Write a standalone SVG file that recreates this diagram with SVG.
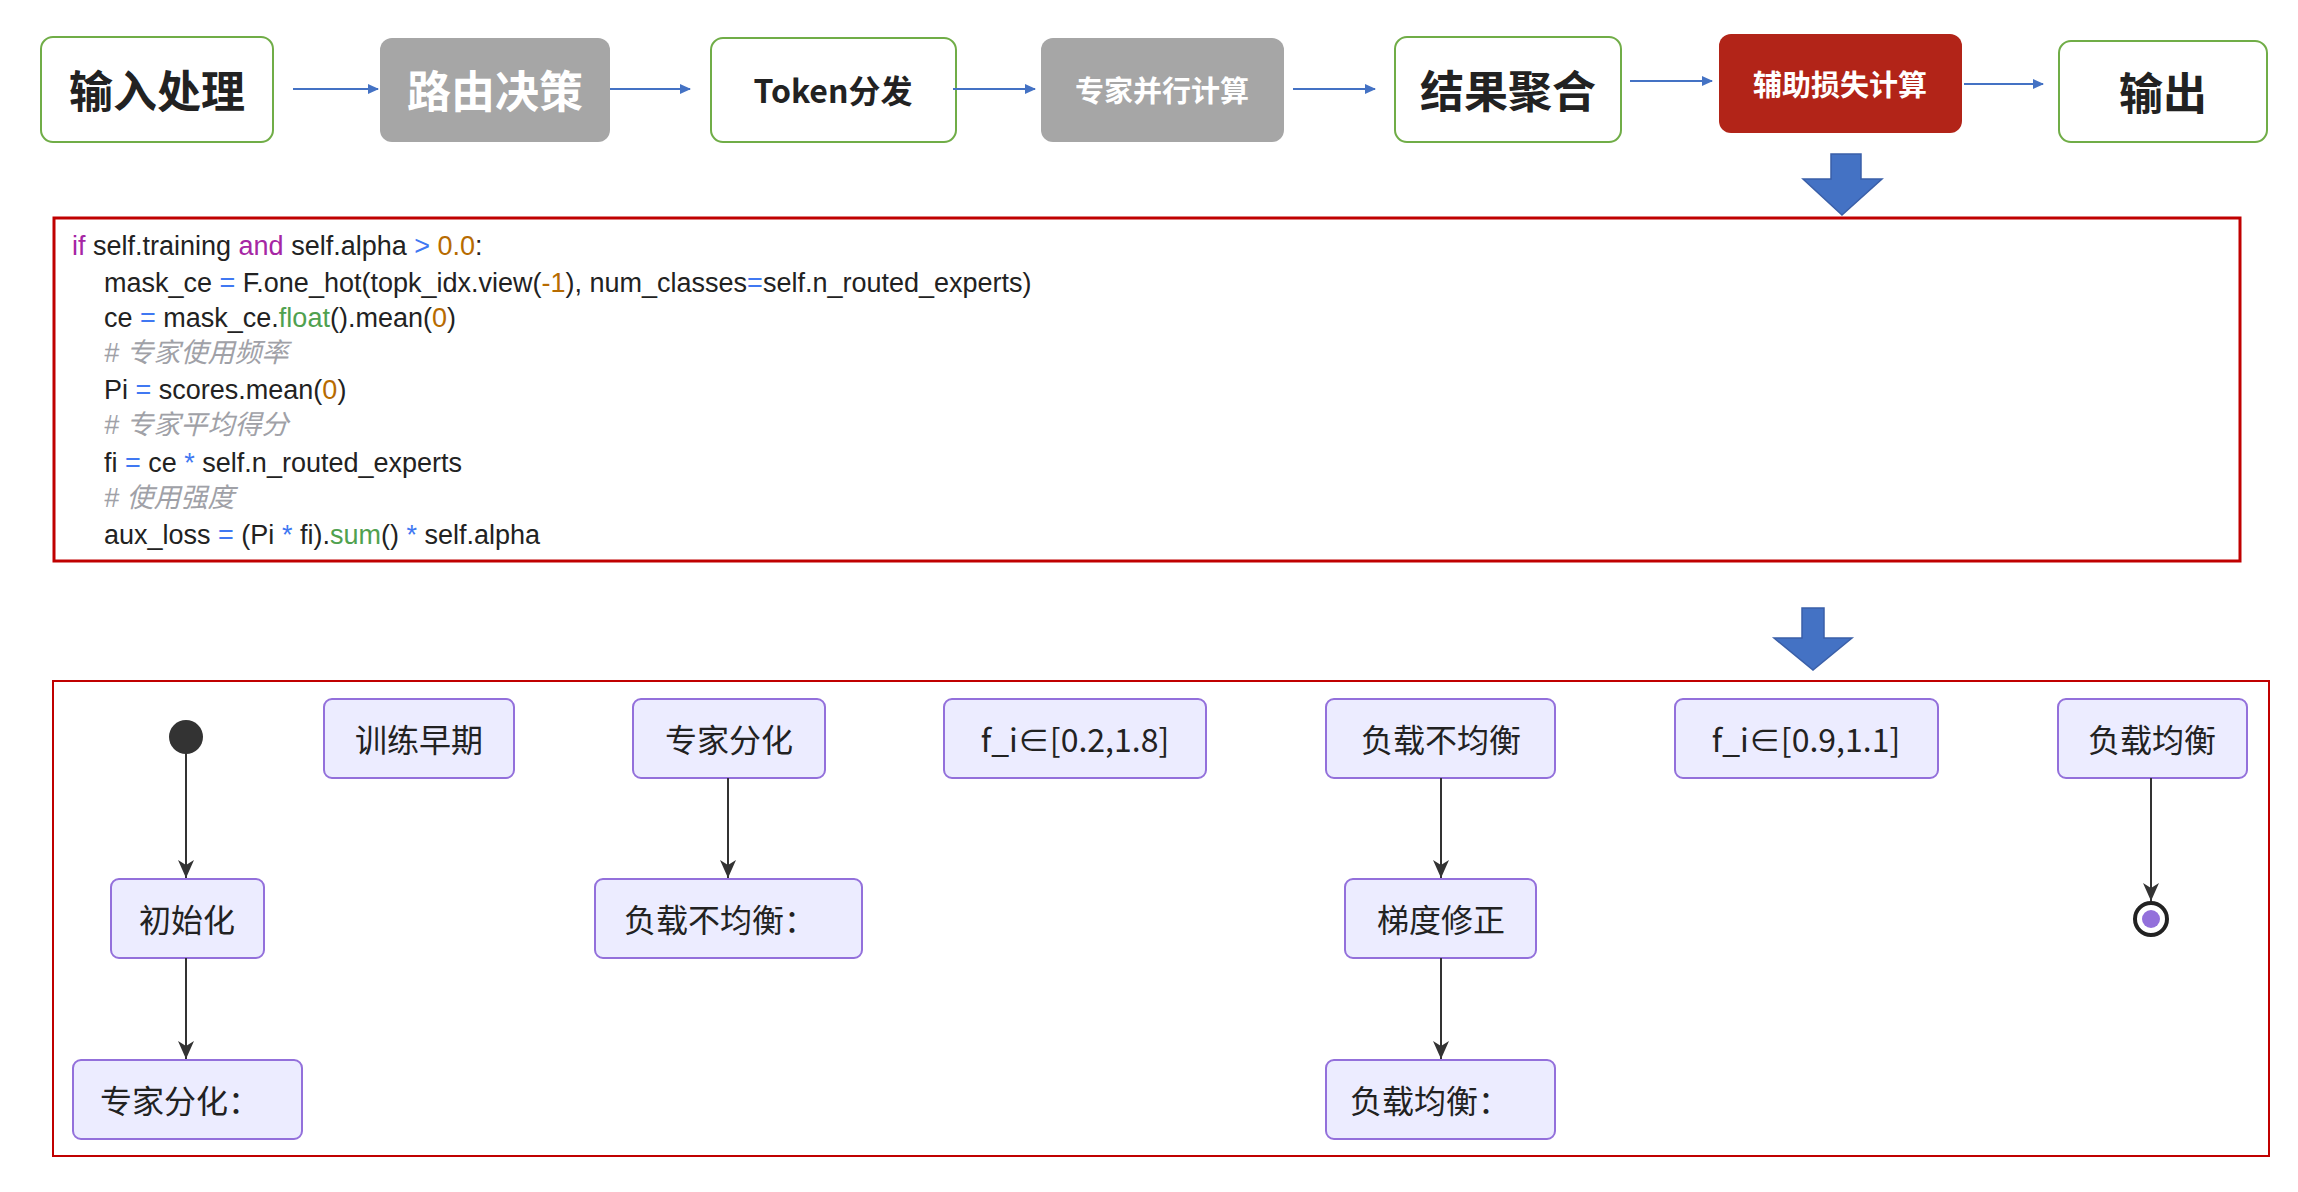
<svg xmlns="http://www.w3.org/2000/svg" width="2298" height="1192" viewBox="0 0 2298 1192">
<style>
text{font-family:"Noto Sans CJK SC","Noto Sans",sans-serif}
.g{fill:#fff;stroke:#70ad47;stroke-width:2}
.gr{fill:#a6a6a6}
.t{font-weight:bold;fill:#222;text-anchor:middle;dominant-baseline:central}
.w{font-weight:bold;fill:#fff;text-anchor:middle;dominant-baseline:central}
.fl{stroke:#4472c4;stroke-width:2;fill:none}
.n{fill:#ececff;stroke:#9370db;stroke-width:2}
.nt{font-size:32px;fill:#222;text-anchor:middle;dominant-baseline:central}
.e{stroke:#333;stroke-width:2;fill:none}
.code{font-family:"Liberation Sans","Noto Sans CJK SC",sans-serif;font-size:27px;fill:#222}
.k{fill:#a626a4}.o{fill:#4078f2}.num{fill:#b76b01}.f{fill:#50a14f}
.c{fill:#a0a1a7;font-style:italic}
</style>
<defs>
<marker id="ab" markerWidth="12" markerHeight="12" refX="10" refY="6" orient="auto" markerUnits="userSpaceOnUse"><path d="M0,1 L11,6 L0,11 z" fill="#4472c4"/></marker>
<marker id="ak" markerWidth="20" markerHeight="20" refX="18" refY="10" orient="auto" markerUnits="userSpaceOnUse"><path d="M0,2 L18,10 L0,18 L5,10 z" fill="#333"/></marker>
</defs>
<g id="n1"><rect class="g" x="41" y="37" width="232" height="105" rx="12"/><text class="t" x="157" y="89" font-size="44">输入处理</text></g>
<g id="n2"><rect class="gr" x="380" y="38" width="230" height="104" rx="12"/><text class="w" x="495" y="89" font-size="44">路由决策</text></g>
<g id="n3"><rect class="g" x="711" y="38" width="245" height="104" rx="12"/><text class="t" x="833" y="89" font-size="32">Token分发</text></g>
<g id="n4"><rect class="gr" x="1041" y="38" width="243" height="104" rx="12"/><text class="w" x="1162" y="89" font-size="29">专家并行计算</text></g>
<g id="n5"><rect class="g" x="1395" y="37" width="226" height="105" rx="12"/><text class="t" x="1508" y="89" font-size="44">结果聚合</text></g>
<g id="n6"><rect x="1719" y="34" width="243" height="99" rx="12" fill="#b22418"/><text class="w" x="1840" y="83" font-size="29">辅助损失计算</text></g>
<g id="n7"><rect class="g" x="2059" y="41" width="208" height="101" rx="12"/><text class="t" x="2163" y="91" font-size="44">输出</text></g>
<g id="flow">
<line class="fl" x1="293" y1="89" x2="378" y2="89" marker-end="url(#ab)"/>
<line class="fl" x1="610" y1="89" x2="690" y2="89" marker-end="url(#ab)"/>
<line class="fl" x1="953" y1="89" x2="1035" y2="89" marker-end="url(#ab)"/>
<line class="fl" x1="1293" y1="89" x2="1375" y2="89" marker-end="url(#ab)"/>
<line class="fl" x1="1630" y1="81" x2="1712" y2="81" marker-end="url(#ab)"/>
<line class="fl" x1="1964" y1="84" x2="2043" y2="84" marker-end="url(#ab)"/>
</g>
<path d="M1831,154 H1861 V179 H1882 L1842,215 L1803,179 H1831 z" fill="#4472c4" stroke="#3a5fa8" stroke-width="1.5"/>
<g id="code">
<rect x="54" y="218" width="2186" height="343" fill="#fff" stroke="#c00000" stroke-width="3"/>
<text class="code" x="72" y="255"><tspan class="k">if</tspan> self.training <tspan class="k">and</tspan> self.alpha <tspan class="o">&gt;</tspan> <tspan class="num">0.0</tspan>:</text>
<text class="code" x="104" y="292">mask_ce <tspan class="o">=</tspan> F.one_hot(topk_idx.view(<tspan class="num">-1</tspan>), num_classes<tspan class="o">=</tspan>self.n_routed_experts)</text>
<text class="code" x="104" y="327">ce <tspan class="o">=</tspan> mask_ce.<tspan class="f">float</tspan>().mean(<tspan class="num">0</tspan>)</text>
<text class="code c" x="104" y="362"># 专家使用频率</text>
<text class="code" x="104" y="399">Pi <tspan class="o">=</tspan> scores.mean(<tspan class="num">0</tspan>)</text>
<text class="code c" x="104" y="434"># 专家平均得分</text>
<text class="code" x="104" y="472">fi <tspan class="o">=</tspan> ce <tspan class="o">*</tspan> self.n_routed_experts</text>
<text class="code c" x="104" y="507"># 使用强度</text>
<text class="code" x="104" y="544">aux_loss <tspan class="o">=</tspan> (Pi <tspan class="o">*</tspan> fi).<tspan class="f">sum</tspan>() <tspan class="o">*</tspan> self.alpha</text>
</g>
<path d="M1802,608 H1824 V638 H1852 L1813,670 L1774,638 H1802 z" fill="#4472c4" stroke="#3a5fa8" stroke-width="1.5"/>
<rect x="53" y="681" width="2216" height="475" fill="none" stroke="#c00000" stroke-width="2"/>
<g id="start"><circle cx="186" cy="737" r="17" fill="#333"/></g>
<g id="b1"><rect class="n" x="324" y="699" width="190" height="79" rx="8"/><text class="nt" x="419" y="738">训练早期</text></g>
<g id="b2"><rect class="n" x="633" y="699" width="192" height="79" rx="8"/><text class="nt" x="729" y="738">专家分化</text></g>
<g id="b3"><rect class="n" x="944" y="699" width="262" height="79" rx="8"/><text class="nt" x="1075" y="738">f_i∈[0.2,1.8]</text></g>
<g id="b4"><rect class="n" x="1326" y="699" width="229" height="79" rx="8"/><text class="nt" x="1441" y="738">负载不均衡</text></g>
<g id="b5"><rect class="n" x="1675" y="699" width="263" height="79" rx="8"/><text class="nt" x="1806" y="738">f_i∈[0.9,1.1]</text></g>
<g id="b6"><rect class="n" x="2058" y="699" width="189" height="79" rx="8"/><text class="nt" x="2152" y="738">负载均衡</text></g>
<g id="c1"><rect class="n" x="111" y="879" width="153" height="79" rx="8"/><text class="nt" x="187" y="918">初始化</text></g>
<g id="c2"><rect class="n" x="595" y="879" width="267" height="79" rx="8"/><text class="nt" x="720" y="918">负载不均衡：</text></g>
<g id="c3"><rect class="n" x="1345" y="879" width="191" height="79" rx="8"/><text class="nt" x="1441" y="918">梯度修正</text></g>
<g id="end"><circle cx="2151" cy="919" r="16" fill="#fff" stroke="#222" stroke-width="4"/><circle cx="2151" cy="919" r="9" fill="#9370db"/></g>
<g id="d1"><rect class="n" x="73" y="1060" width="229" height="79" rx="8"/><text class="nt" x="180" y="1099">专家分化：</text></g>
<g id="d2"><rect class="n" x="1326" y="1060" width="229" height="79" rx="8"/><text class="nt" x="1430" y="1099">负载均衡：</text></g>
<g id="edges">
<line class="e" x1="186" y1="752" x2="186" y2="878" marker-end="url(#ak)"/>
<line class="e" x1="186" y1="958" x2="186" y2="1059" marker-end="url(#ak)"/>
<line class="e" x1="728" y1="778" x2="728" y2="878" marker-end="url(#ak)"/>
<line class="e" x1="1441" y1="778" x2="1441" y2="878" marker-end="url(#ak)"/>
<line class="e" x1="1441" y1="958" x2="1441" y2="1059" marker-end="url(#ak)"/>
<line class="e" x1="2151" y1="778" x2="2151" y2="901" marker-end="url(#ak)"/>
</g>
</svg>
